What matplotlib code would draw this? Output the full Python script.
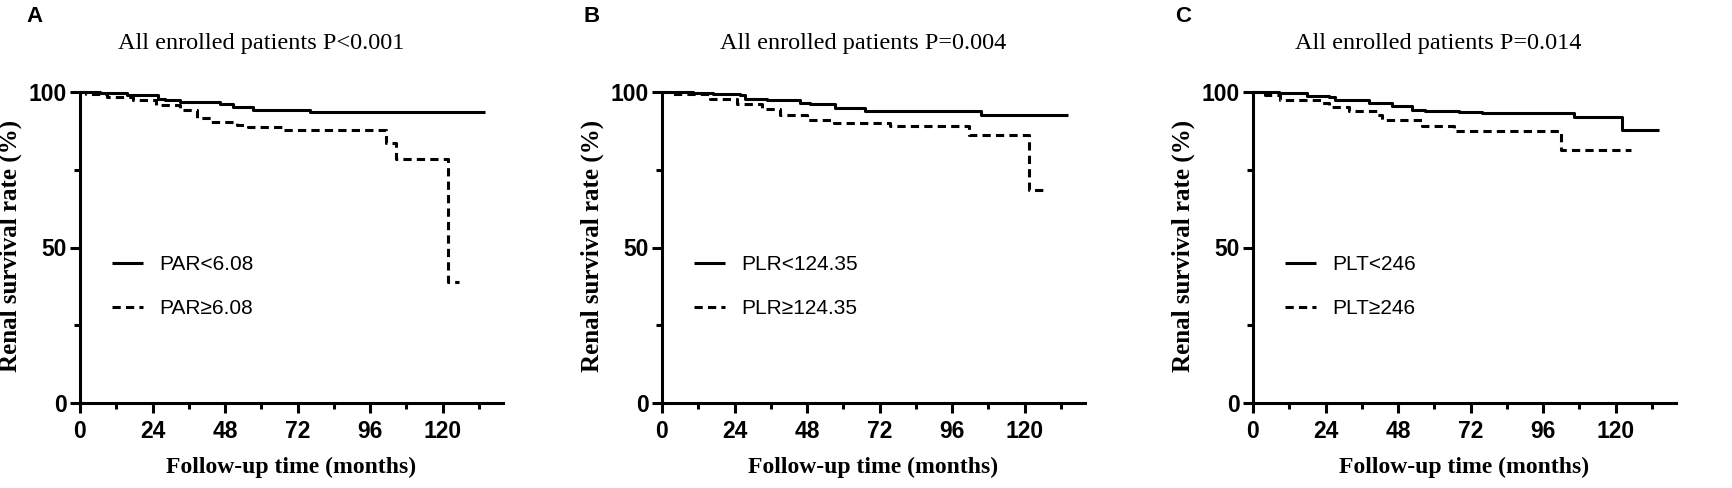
import matplotlib
matplotlib.use('Agg')
import matplotlib.pyplot as plt
from matplotlib.ticker import MultipleLocator

# Kaplan-Meier steps (months, survival %)
a_low_t = [0, 6.6, 15.4, 25.9, 28, 33, 46.3, 50.7, 57.3, 68.3, 76, 134]
a_low_s = [100, 99.6, 99.1, 97.9, 97.3, 96.8, 96.2, 95.2, 94.3, 94.1, 93.6, 93.6]
a_high_t = [0, 2, 8.8, 17.6, 25.3, 33, 38.6, 43.5, 51.8, 55.6, 67.2, 101.4, 104.7, 121.8, 125.6]
a_high_s = [100, 99.2, 98.4, 97.3, 95.9, 94.1, 91.6, 90.4, 89.5, 88.7, 87.7, 83.5, 78.6, 39, 39]

b_low_t = [0, 10.3, 17, 25.8, 27.5, 34.7, 45.7, 49, 57.4, 67.3, 105.5, 134.3]
b_low_s = [100, 99.7, 99.2, 98.9, 97.9, 97.3, 96.6, 96.0, 94.9, 93.9, 92.5, 92.5]
b_high_t = [0, 2.5, 15.8, 24.7, 33, 39, 48, 56.8, 75.6, 101.7, 121.6, 126.6]
b_high_s = [100, 99.5, 97.9, 96.2, 94.6, 92.5, 91.1, 90.1, 89.0, 86.1, 68.4, 68.4]

c_low_t = [0, 8.5, 17.9, 25, 27.3, 38.3, 46, 52.6, 57, 68.1, 75.8, 106.2, 122.2, 134.3]
c_low_s = [100, 99.7, 98.6, 98.4, 97.3, 96.5, 95.4, 94.3, 93.8, 93.5, 93.1, 92.0, 87.9, 87.9]
c_high_t = [0, 4, 9, 22.8, 25, 31.7, 41, 42.7, 56, 66.4, 101.8, 125]
c_high_s = [100, 99.1, 97.5, 96.5, 95.2, 93.8, 92.7, 91.1, 89.2, 87.4, 81.5, 81.5]

letters = ['A', 'B', 'C']
titles = ['All enrolled patients P<0.001', 'All enrolled patients P=0.004',
          'All enrolled patients P=0.014']
low_labels = ['PAR<6.08', 'PLR<124.35', 'PLT<246']
high_labels = ['PAR\u22656.08', 'PLR\u2265124.35', 'PLT\u2265246']
x_ticks = [0, 24, 48, 72, 96, 120]
y_ticks = [0, 50, 100]

curves = [
    (a_low_t, a_low_s, a_high_t, a_high_s),
    (b_low_t, b_low_s, b_high_t, b_high_s),
    (c_low_t, c_low_s, c_high_t, c_high_s),
]

W, H = 1733, 488
narrow = ['Liberation Sans Narrow', 'Liberation Sans', 'DejaVu Sans']
serif = ['Liberation Serif', 'DejaVu Serif']

fig = plt.figure(figsize=(W / 100, H / 100), dpi=100)

# pixel layout of the three panels
lefts = [80, 662, 1253]
title_x = [118, 720, 1295]
letter_x = [35, 592, 1183]
ax_w = 423
y0_px, y100_px = 403, 92
ax_h = y0_px - y100_px
dash = (0, (2.7, 1.7))
lw = 2.2

for i, left in enumerate(lefts):
    ax = fig.add_axes([left / W, 1 - y0_px / H, ax_w / W, ax_h / H])
    lt, ls, ht, hs = curves[i]
    ax.step(lt, ls, where='post', color='black', lw=lw, clip_on=False,
            label=low_labels[i], solid_capstyle='butt')
    ax.step(ht, hs, where='post', color='black', lw=lw, ls=dash, clip_on=False,
            label=high_labels[i], dash_capstyle='butt')

    ax.set_xlim(0, 140)
    ax.set_ylim(0, 100)
    ax.spines['top'].set_visible(False)
    ax.spines['right'].set_visible(False)
    for sp in ['left', 'bottom']:
        ax.spines[sp].set_linewidth(lw)
    ax.set_xticks(x_ticks)
    ax.set_yticks(y_ticks)
    ax.xaxis.set_minor_locator(MultipleLocator(12))
    ax.yaxis.set_minor_locator(MultipleLocator(25))
    ax.tick_params(which='major', length=7.5, width=lw, pad=5)
    ax.tick_params(which='minor', length=4, width=lw)
    ax.tick_params(axis='y', which='major', pad=2)
    for lab in ax.get_xticklabels() + ax.get_yticklabels():
        lab.set_fontfamily(narrow)
        lab.set_fontweight('bold')
        lab.set_fontsize(16.5)

    ax.set_xlabel('Follow-up time (months)', fontfamily=serif, fontweight='bold',
                  fontsize=17)
    ax.xaxis.set_label_coords(0.5, (y0_px - 457) / ax_h)
    ax.set_ylabel('Renal survival rate (%)', fontfamily=serif, fontweight='bold',
                  fontsize=18)
    ax.yaxis.set_label_coords(-58 / ax_w, 0.505)

    fig.text(title_x[i] / W, 1 - 44 / H, titles[i], ha='left', va='center',
             fontfamily=serif, fontsize=17.5)
    fig.text(letter_x[i] / W, 1 - 17 / H, letters[i], ha='center', va='center',
             fontfamily=['Liberation Sans', 'DejaVu Sans'], fontweight='bold', fontsize=16)

    ax.legend(loc='upper left', bbox_to_anchor=(32 / ax_w, (y0_px - 255) / ax_h),
              frameon=False, borderpad=0, borderaxespad=0, handlelength=1.5,
              handletextpad=0.75, labelspacing=1.2,
              prop={'family': narrow, 'size': 15})

fig.savefig('out.png', dpi=100)
